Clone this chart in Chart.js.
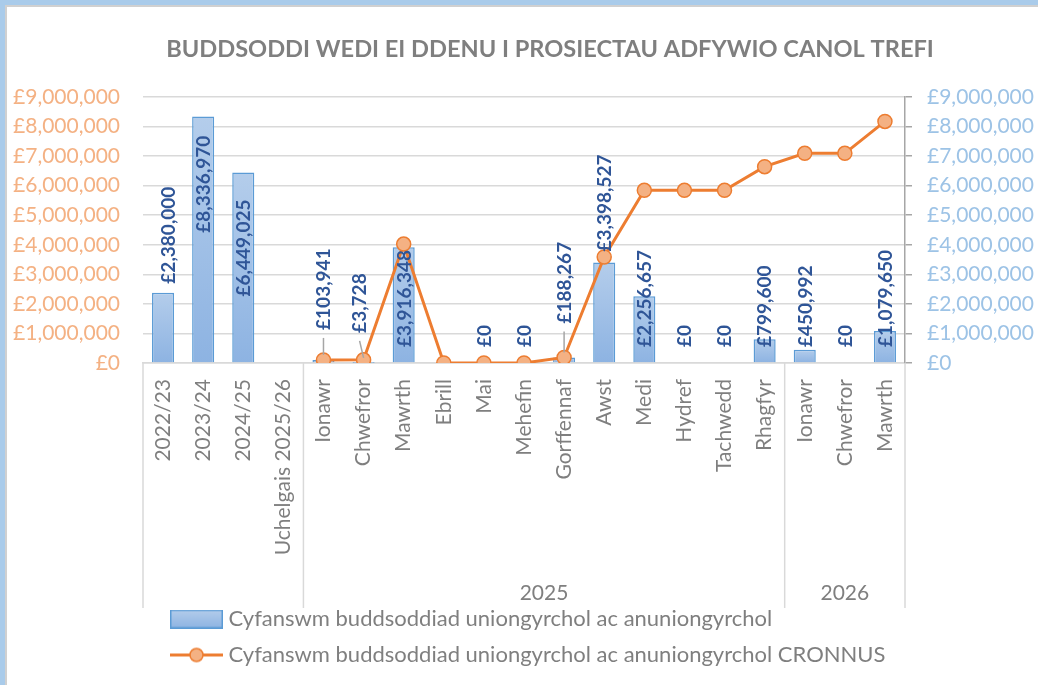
<!DOCTYPE html>
<html><head><meta charset="utf-8">
<script src="https://cdn.jsdelivr.net/npm/chart.js@4.4.1/dist/chart.umd.min.js"></script>
<style>
html,body{margin:0;padding:0;width:1038px;height:685px;overflow:hidden;background:#A9CBEA;}
#frame{position:absolute;left:5px;top:5px;width:1200px;height:800px;border:2px solid #D0D0D0;background:#fff;}
#c{position:absolute;left:0;top:0;}
</style></head><body>
<div id="frame"><canvas id="c" width="1086" height="678"></canvas></div>
<script>
// ---- DATA ----
const categories = ['2022/23','2023/24','2024/25','Uchelgais 2025/26','Ionawr','Chwefror','Mawrth','Ebrill','Mai','Mehefin','Gorffennaf','Awst','Medi','Hydref','Tachwedd','Rhagfyr','Ionawr','Chwefror','Mawrth'];
const investment = [2380000, 8336970, 6449025, null, 103941, 3728, 3916348, null, 0, 0, 188267, 3398527, 2256657, 0, 0, 799600, 450992, 0, 1079650];
const cumulative = [null, null, null, null, 103941, 107669, 4024017, 0, 0, 0, 188267, 3586794, 5843451, 5843451, 5843451, 6643051, 7094043, 7094043, 8173693];
const yearGroups = ['', '2025', '2026'];
const groupFirst = [0, 4, 16];
const groupLast = [3, 15, 18];
const axisMin = 0, axisMax = 9000000, axisStep = 1000000;
const seriesNames = ['Cyfanswm buddsoddiad uniongyrchol ac anuniongyrchol', 'Cyfanswm buddsoddiad uniongyrchol ac anuniongyrchol CRONNUS'];
const chartTitle = 'BUDDSODDI WEDI EI DDENU I PROSIECTAU ADFYWIO CANOL TREFI';

// ---- STYLE ----
const FONT = 'Lato';
const GREY = '#7F7F7F';
const fmt = v => '£' + Number(v).toLocaleString('en-GB');
// label placement per bar (style only)
const labelPlacement = [
  {mode:'end', gap:9, dx:5}, {mode:'inside', gap:19}, {mode:'inside', gap:27}, null,
  {mode:'end', gap:30, leader:true}, {mode:'end', gap:30, leader:true, dx:-4}, {mode:'base'}, null,
  {mode:'base'}, {mode:'base'}, {mode:'end', gap:34, leader:true}, {mode:'end', gap:11}, {mode:'base'},
  {mode:'base'}, {mode:'base'}, {mode:'base'}, {mode:'base'}, {mode:'base'}, {mode:'base'}
];

function makeBarIcon(){
  const c = document.createElement('canvas'); c.width = 53; c.height = 19;
  const x = c.getContext('2d');
  const g = x.createLinearGradient(0,0,0,19); g.addColorStop(0,'#B4CDEB'); g.addColorStop(1,'#8DB3E2');
  x.fillStyle = g; x.fillRect(0,0,53,19);
  x.strokeStyle = '#5B9BD5'; x.lineWidth = 1.5; x.strokeRect(0.75,0.75,51.5,17.5);
  return c;
}
function makeLineIcon(){
  const c = document.createElement('canvas'); c.width = 53; c.height = 17;
  const x = c.getContext('2d');
  x.strokeStyle = '#ED7D31'; x.lineWidth = 3; x.beginPath(); x.moveTo(0,8.5); x.lineTo(53,8.5); x.stroke();
  x.beginPath(); x.arc(26.5,8.5,6.5,0,Math.PI*2); x.fillStyle = '#F4B183'; x.fill();
  x.lineWidth = 1.5; x.stroke();
  return c;
}
const barIcon = makeBarIcon(), lineIcon = makeLineIcon();

const barLabels = {
  id: 'barLabels',
  afterDatasetsDraw(chart){
    const ctx = chart.ctx, ys = chart.scales.y, meta = chart.getDatasetMeta(0);
    const size = 19, capH = size * 0.72;
    ctx.save();
    ctx.font = 'bold ' + size + 'px ' + FONT;
    ctx.fillStyle = '#2F5597';
    const y0 = ys.getPixelForValue(0);
    investment.forEach((v, i) => {
      const p = labelPlacement[i];
      if (v === null || !p) return;
      const el = meta.data[i];
      const bx = el.x, yv = ys.getPixelForValue(v);
      const text = fmt(v);
      const w = ctx.measureText(text).width;
      let bottom;
      if (p.mode === 'base') bottom = y0 - 16;
      else if (p.mode === 'end') bottom = yv - p.gap;
      else bottom = yv + p.gap + w;
      const cx = bx + (p.dx || 0);
      if (p.leader) {
        ctx.save();
        ctx.strokeStyle = '#A6A6A6'; ctx.lineWidth = 1.5;
        ctx.beginPath(); ctx.moveTo(cx, bottom + 8); ctx.lineTo(bx, yv - 5); ctx.stroke();
        ctx.restore();
      }
      ctx.save();
      ctx.translate(cx, bottom);
      ctx.rotate(-Math.PI/2);
      ctx.textAlign = 'left'; ctx.textBaseline = 'alphabetic';
      ctx.fillText(text, 0, capH/2);
      ctx.restore();
    });
    ctx.restore();
  }
};

const groupAxis = {
  id: 'groupAxis',
  afterLayout(chart){
    if (chart.legend) {
      chart.legend.left = chart.chartArea.left + 18.5;
      chart.legend.right = chart.chartArea.right + 18.5;
    }
  },
  afterDraw(chart){
    const ctx = chart.ctx, xs = chart.scales.x, area = chart.chartArea;
    const step = xs.getPixelForValue(1) - xs.getPixelForValue(0);
    const bottom = area.bottom + 245;
    ctx.save();
    ctx.strokeStyle = '#D9D9D9'; ctx.lineWidth = 1.5;
    const bounds = [];
    groupFirst.forEach(f => bounds.push(xs.getPixelForValue(f) - step/2));
    bounds.push(xs.getPixelForValue(groupLast[groupLast.length-1]) + step/2);
    bounds.forEach(bx => { ctx.beginPath(); ctx.moveTo(bx, area.bottom); ctx.lineTo(bx, bottom); ctx.stroke(); });
    ctx.fillStyle = GREY; ctx.font = '21px ' + FONT; ctx.textAlign = 'center'; ctx.textBaseline = 'middle';
    yearGroups.forEach((g, i) => {
      if (!g) return;
      const cx = (xs.getPixelForValue(groupFirst[i]) + xs.getPixelForValue(groupLast[i])) / 2;
      ctx.fillText(g, cx, area.bottom + 230);
    });
    ctx.restore();
  }
};

new Chart(document.getElementById('c'), {
  type: 'bar',
  data: {
    labels: categories,
    datasets: [
      {
        type: 'bar', label: seriesNames[0], data: investment, yAxisID: 'y', order: 1,
        backgroundColor: (c) => {
          const chart = c.chart, ys = chart.scales && chart.scales.y;
          if (c.type !== 'data' || !ys || !c.parsed || c.parsed.y == null) return '#A5C3E8';
          const top = ys.getPixelForValue(c.parsed.y), base = ys.getPixelForValue(0);
          if (!isFinite(top) || !isFinite(base) || Math.abs(base - top) < 1) return '#A5C3E8';
          const g = chart.ctx.createLinearGradient(0, top, 0, base);
          g.addColorStop(0, '#B4CDEB'); g.addColorStop(1, '#8DB3E2');
          return g;
        },
        borderColor: '#5B9BD5', borderWidth: 1.5,
        barPercentage: 0.55, categoryPercentage: 1.0
      },
      {
        type: 'line', label: seriesNames[1], data: cumulative, yAxisID: 'y1', order: 0,
        borderColor: '#ED7D31', borderWidth: 3, tension: 0,
        pointRadius: 7, pointHoverRadius: 7, pointBackgroundColor: '#F4B183',
        pointBorderColor: '#ED7D31', pointBorderWidth: 1.5, spanGaps: false
      }
    ]
  },
  options: {
    responsive: false, animation: false, devicePixelRatio: 1,
    layout: { padding: { left: 0, right: 0, top: 0, bottom: 9 } },
    scales: {
      x: {
        afterFit: s => { s.height = 231; },
        grid: { display: false, drawTicks: false },
        border: { display: true, color: '#D9D9D9', width: 1.5 },
        ticks: { autoSkip: false, maxRotation: 90, minRotation: 90, padding: 16, color: GREY, font: { family: FONT, size: 21 } }
      },
      y: {
        position: 'left', min: axisMin, max: axisMax,
        afterFit: s => { s.width = 136; },
        grid: { color: '#D9D9D9', lineWidth: 1.5, drawTicks: false },
        border: { display: false },
        ticks: { stepSize: axisStep, padding: 23, color: '#F4B183', font: { family: FONT, size: 21 }, callback: v => fmt(v) }
      },
      y1: {
        position: 'right', min: axisMin, max: axisMax,
        afterFit: s => { s.width = 188; },
        grid: { drawOnChartArea: false, drawTicks: true, tickLength: 7, color: '#A6A6A6', lineWidth: 1.5 },
        border: { display: true, color: '#A6A6A6', width: 1.5 },
        ticks: { stepSize: axisStep, padding: 15, color: '#9DC3E6', font: { family: FONT, size: 21 }, callback: v => fmt(v) }
      }
    },
    plugins: {
      tooltip: { enabled: false },
      title: {
        display: true, text: chartTitle, color: GREY,
        font: { family: FONT, size: 23.6, weight: 'bold', lineHeight: 1.2 },
        padding: { top: 27.8, bottom: 33.9 }
      },
      legend: {
        position: 'bottom', align: 'start', fullSize: false,
        labels: {
          usePointStyle: true, pointStyleWidth: 42, boxHeight: 19, padding: 14,
          color: GREY, font: { family: FONT, size: 22 },
          generateLabels: (chart) => chart.data.datasets.map((ds, i) => ({
            text: ds.label, datasetIndex: i, pointStyle: i === 0 ? barIcon : lineIcon,
            fontColor: GREY, hidden: false, lineWidth: 0, strokeStyle: 'rgba(0,0,0,0)', fillStyle: 'rgba(0,0,0,0)'
          }))
        }
      }
    }
  },
  plugins: [barLabels, groupAxis]
});
</script>
</body></html>
